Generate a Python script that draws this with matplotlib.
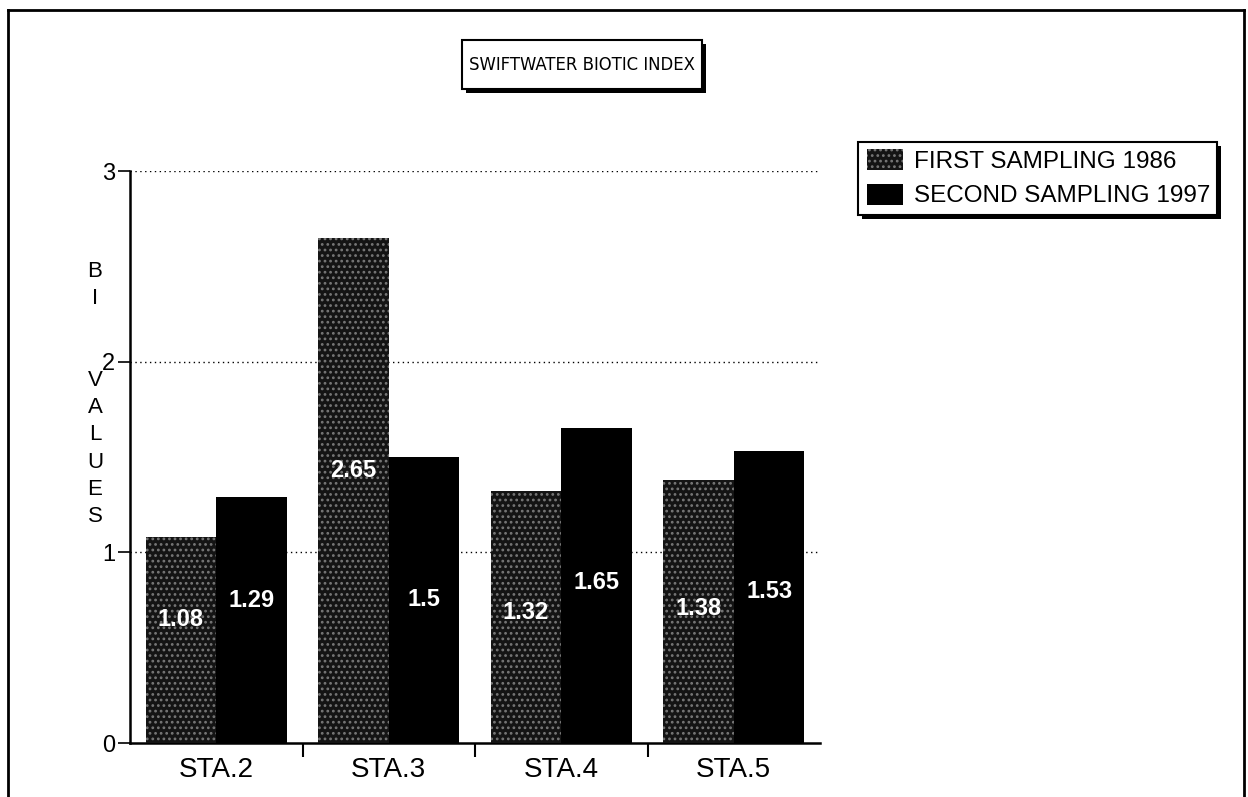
import numpy as np
import matplotlib
matplotlib.use("Agg")
import matplotlib.pyplot as plt
from matplotlib.patches import Patch, Rectangle
from matplotlib.lines import Line2D

# ── data ──────────────────────────────────────────────────────────────────────
stations = ["STA.2", "STA.3", "STA.4", "STA.5"]
first_1986 = [1.08, 2.65, 1.32, 1.38]
second_1997 = [1.29, 1.50, 1.65, 1.53]
series_names = ["FIRST SAMPLING 1986", "SECOND SAMPLING 1997"]
y_ticks = [0, 1, 2, 3]

# where the value labels sit, as a fraction of the bar height
label_frac_first = [0.60, 0.54, 0.52, 0.51]
label_frac_second = [0.58, 0.50, 0.51, 0.52]

plt.rcParams["font.family"] = ["Liberation Sans", "DejaVu Sans"]
plt.rcParams["hatch.linewidth"] = 1.2

W, H = 1248, 797
fig = plt.figure(figsize=(W / 100, H / 100), dpi=100)
ax = fig.add_axes([130 / W, 1 - 743 / H, 690 / W, (743 - 171) / H])

SPECKLE = dict(facecolor="#141414", edgecolor="#777777", hatch="...", linewidth=0)

x = np.arange(len(stations))
bw = 0.41
b1 = ax.bar(x - bw / 2, first_1986, bw, zorder=3, **SPECKLE)
b2 = ax.bar(x + bw / 2, second_1997, bw, color="black", linewidth=0, zorder=3)

for bars, vals, fr in [(b1, first_1986, label_frac_first), (b2, second_1997, label_frac_second)]:
    for rect, v, f in zip(bars, vals, fr):
        ax.text(rect.get_x() + rect.get_width() / 2, v * f, f"{v:g}",
                ha="center", va="center", color="white", fontsize=17,
                fontweight="bold", zorder=4)

ax.set_xlim(-0.5, len(stations) - 0.5)
ax.set_ylim(0, 3)
ax.set_yticks(y_ticks)
ax.set_yticklabels([str(t) for t in y_ticks], fontsize=17)
ax.set_xticks(x[:-1] + 0.5)
ax.set_xticklabels([])
ax.set_xticks(x, minor=True)
ax.set_xticklabels(stations, minor=True, fontsize=20)
ax.tick_params(axis="x", which="minor", length=0, pad=10)
ax.tick_params(axis="x", which="major", length=10, width=1.5, direction="out")
ax.tick_params(axis="y", length=8.5, width=1.2, direction="out", pad=2)

for t in y_ticks[1:]:
    ax.axhline(t, color="black", lw=1.0, ls=(0, (1, 2.5)), zorder=1)

for s in ["top", "right"]:
    ax.spines[s].set_visible(False)
ax.spines["left"].set_linewidth(1.8)
ax.spines["bottom"].set_linewidth(1.8)

# vertical letter label
fig.text(95 / W, 1 - 394 / H, "B\nI\n\n\nV\nA\nL\nU\nE\nS", ha="center", va="center",
         fontsize=16, linespacing=1.39)


def shadow_box(x0, y0, x1, y1, off=4):
    """white box with black edge and a drop shadow, pixel coords from top-left"""
    fig.add_artist(Rectangle(((x0 + off) / W, 1 - (y1 + off) / H), (x1 - x0) / W, (y1 - y0) / H,
                             transform=fig.transFigure, facecolor="black", edgecolor="none",
                             zorder=0))
    fig.add_artist(Rectangle((x0 / W, 1 - y1 / H), (x1 - x0) / W, (y1 - y0) / H,
                             transform=fig.transFigure, facecolor="white", edgecolor="black",
                             lw=1.5, zorder=0.5))


# title box
shadow_box(462, 40, 702, 89)
fig.text(582 / W, 1 - 65 / H, "SWIFTWATER BIOTIC INDEX", ha="center", va="center",
         fontsize=13.2, fontstretch="condensed", family=["DejaVu Sans"], zorder=5)

# legend box
shadow_box(858, 142, 1217, 215)
handles = [Patch(**SPECKLE), Patch(facecolor="black", linewidth=0)]
leg = fig.legend(handles, series_names, loc="upper left",
                 bbox_to_anchor=(862 / W, 1 - 144 / H), fontsize=17.5,
                 frameon=False, handlelength=1.5, handleheight=0.95,
                 handletextpad=0.45, labelspacing=0.45, borderpad=0.2, borderaxespad=0)

# outer page frame
for xs, ys in [([8, 8], [797, 10]), ([8, 1244], [10, 10]), ([1244, 1244], [10, 797])]:
    fig.add_artist(Line2D([v / W for v in xs], [1 - v / H for v in ys],
                          color="black", lw=2, transform=fig.transFigure))

fig.savefig("out.png", dpi=100)
